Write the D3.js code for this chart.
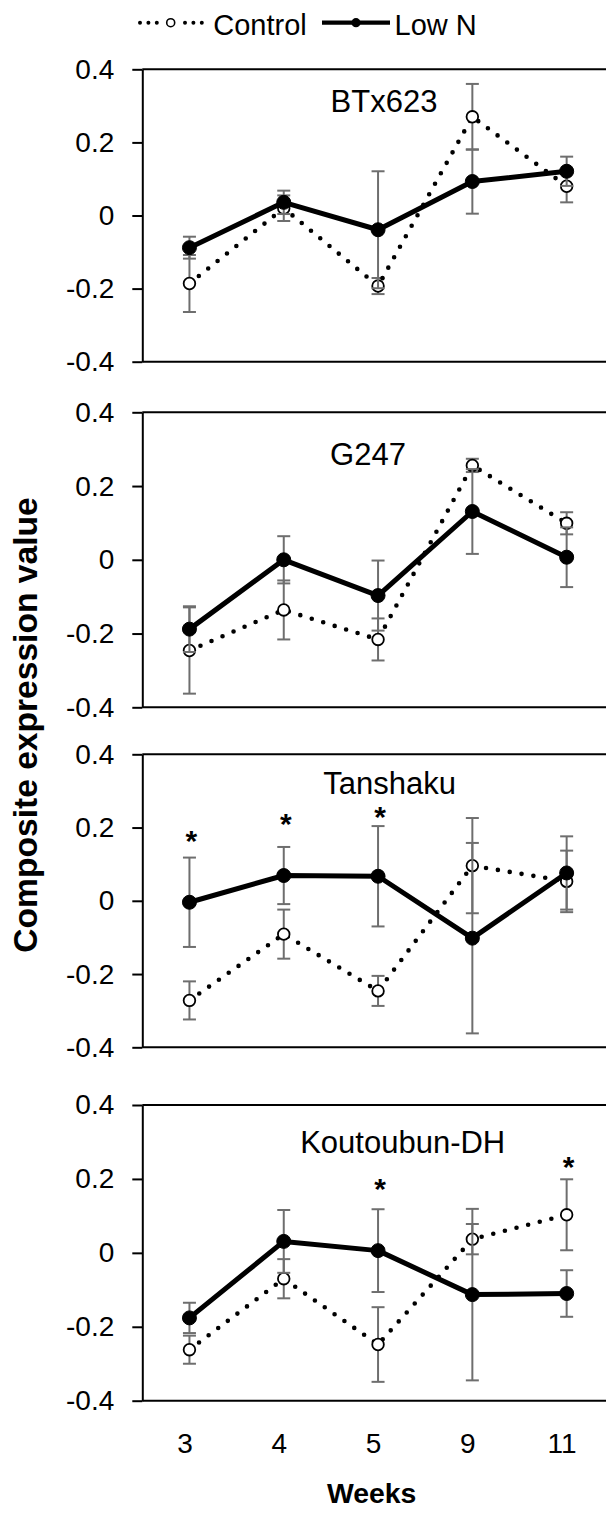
<!DOCTYPE html>
<html>
<head>
<meta charset="utf-8">
<script src="https://cdn.jsdelivr.net/npm/d3@7"></script>
<style>
  html, body { margin: 0; padding: 0; background: #fff; }
  svg { display: block; }
  text { font-family: "Liberation Sans", Arial, Helvetica, sans-serif; fill: #000; }
</style>
</head>
<body>
<svg id="chart" width="606" height="1515"></svg>
<script>
// ---- data ----
const weeks = ["3", "4", "5", "9", "11"];
const cultivars = ["BTx623", "G247", "Tanshaku", "Koutoubun-DH"];
const yTicks = [-0.4, -0.2, 0, 0.2, 0.4];

// composite expression value (mean) and error per week, Control vs Low N
const controlMean = [
  [-0.186, 0.020, -0.193, 0.270, 0.080],
  [-0.246, -0.136, -0.216, 0.256, 0.099],
  [-0.272, -0.091, -0.246, 0.096, 0.053],
  [-0.262, -0.070, -0.248, 0.037, 0.103]
];
const controlErr = [
  [0.078, 0.035, 0.022, 0.090, 0.044],
  [0.117, 0.080, 0.057, 0.018, 0.030],
  [0.052, 0.067, 0.041, 0.130, 0.084],
  [0.038, 0.053, 0.101, 0.041, 0.096]
];
const lowNMean = [
  [-0.088, 0.036, -0.039, 0.093, 0.121],
  [-0.188, 0.000, -0.097, 0.131, 0.007],
  [-0.004, 0.069, 0.067, -0.102, 0.076],
  [-0.176, 0.031, 0.006, -0.113, -0.110]
];
const lowNErr = [
  [0.030, 0.032, 0.160, 0.088, 0.040],
  [0.062, 0.064, 0.095, 0.115, 0.081],
  [0.122, 0.078, 0.137, 0.260, 0.100],
  [0.041, 0.085, 0.112, 0.232, 0.063]
];
// significance marks: [panel index, week, vertical position in data units]
const significance = [
  [2, "3", 0.183], [2, "4", 0.230], [2, "5", 0.248],
  [3, "5", 0.191], [3, "11", 0.250]
];

// ---- layout ----
const svg = d3.select("#chart");
const axisX = 142.3;
const plotRight = 613.8;
const panelTop = [69.3, 412.3, 754.3, 1105];
const panelBottom = [361.7, 707.3, 1047.3, 1400.7];
const titlePos = [[384, 42.4], [368, 52.7], [389.7, 39.7], [402.7, 48.3]];
const errColor = "#6e6e6e";

const x = d3.scalePoint().domain(weeks).range([axisX, plotRight]).padding(0.5);

cultivars.forEach((name, p) => {
  const y = d3.scaleLinear().domain([-0.4, 0.4]).range([panelBottom[p], panelTop[p]]);
  const g = svg.append("g");

  // frame lines at top and bottom of the value range
  [0.4, -0.4].forEach(v => {
    g.append("line")
      .attr("x1", axisX).attr("x2", plotRight)
      .attr("y1", y(v)).attr("y2", y(v))
      .attr("stroke", "#000").attr("stroke-width", 2);
  });

  // value axis
  const ax = g.append("g")
    .attr("transform", `translate(${axisX},0)`)
    .call(d3.axisLeft(y).tickValues(yTicks).tickSize(10).tickSizeOuter(0).tickPadding(18)
      .tickFormat(d => d === 0 ? "0" : String(+d.toFixed(1))));
  ax.select(".domain").attr("stroke", "#000").attr("stroke-width", 2);
  ax.selectAll(".tick line").attr("stroke", "#000").attr("stroke-width", 2);
  ax.selectAll(".tick text").attr("font-size", 28).attr("font-family", "Liberation Sans, Arial, sans-serif").attr("fill", "#000");

  // panel title
  g.append("text")
    .attr("x", titlePos[p][0]).attr("y", panelTop[p] + titlePos[p][1])
    .attr("text-anchor", "middle").attr("font-size", 31)
    .text(name);

  const series = [
    { mean: controlMean[p], err: controlErr[p], control: true },
    { mean: lowNMean[p], err: lowNErr[p], control: false }
  ];

  series.forEach(s => {
    const pts = weeks.map((w, i) => ({ w, v: s.mean[i], e: s.err[i] }));
    const sg = g.append("g");

    // error bars
    const eb = sg.selectAll("g.err").data(pts).join("g").attr("class", "err")
      .attr("stroke", errColor).attr("stroke-width", 2);
    eb.append("line")
      .attr("x1", d => x(d.w)).attr("x2", d => x(d.w))
      .attr("y1", d => y(d.v - d.e)).attr("y2", d => y(d.v + d.e));
    eb.append("line")
      .attr("x1", d => x(d.w) - 6.5).attr("x2", d => x(d.w) + 6.5)
      .attr("y1", d => y(d.v + d.e)).attr("y2", d => y(d.v + d.e));
    eb.append("line")
      .attr("x1", d => x(d.w) - 6.5).attr("x2", d => x(d.w) + 6.5)
      .attr("y1", d => y(d.v - d.e)).attr("y2", d => y(d.v - d.e));

    // line
    const line = d3.line().x(d => x(d.w)).y(d => y(d.v));
    const path = sg.append("path").datum(pts).attr("d", line).attr("fill", "none")
      .attr("stroke", "#000");
    if (s.control) {
      path.attr("stroke-width", 4.6).attr("stroke-linecap", "round").attr("stroke-dasharray", "0 12");
    } else {
      path.attr("stroke-width", 5).attr("stroke-linejoin", "round");
    }

    // markers
    sg.selectAll("circle").data(pts).join("circle")
      .attr("cx", d => x(d.w)).attr("cy", d => y(d.v))
      .attr("r", s.control ? 5.8 : 7)
      .attr("fill", s.control ? "#fff" : "#000")
      .attr("stroke", "#000").attr("stroke-width", s.control ? 1.8 : 1);
  });

  // significance asterisks
  significance.filter(d => d[0] === p).forEach(d => {
    g.append("text")
      .attr("x", x(d[1]) + 2).attr("y", y(d[2]) + 17)
      .attr("text-anchor", "middle").attr("font-size", 30).attr("font-weight", "bold")
      .text("*");
  });
});

// week axis labels under the last panel
const lastBottom = panelBottom[panelBottom.length - 1];
const xa = svg.append("g")
  .attr("transform", `translate(-5,${lastBottom})`)
  .call(d3.axisBottom(x).tickSize(0).tickPadding(32));
xa.select(".domain").remove();
xa.selectAll(".tick text").attr("font-size", 28).attr("font-family", "Liberation Sans, Arial, sans-serif").attr("fill", "#000");

// axis titles
svg.append("text")
  .attr("x", 371.7).attr("y", 1503)
  .attr("text-anchor", "middle").attr("font-size", 28.4).attr("font-weight", "bold")
  .text("Weeks");

svg.append("text")
  .attr("transform", "translate(36.5,725) rotate(-90)")
  .attr("text-anchor", "middle").attr("font-size", 33.6).attr("font-weight", "bold")
  .text("Composite expression value");

// legend
const legend = svg.append("g");
[[140, 157], [185, 202]].forEach(([a, b]) => {
  legend.append("line")
    .attr("x1", a).attr("x2", b + 0.1).attr("y1", 22.7).attr("y2", 22.7)
    .attr("stroke", "#000").attr("stroke-width", 4)
    .attr("stroke-linecap", "round").attr("stroke-dasharray", "0 8.4");
});
legend.append("circle")
  .attr("cx", 170.7).attr("cy", 22.7).attr("r", 4)
  .attr("fill", "#fff").attr("stroke", "#000").attr("stroke-width", 1.6);
legend.append("text").attr("x", 213.3).attr("y", 35).attr("font-size", 29).text("Control");

legend.append("line")
  .attr("x1", 322).attr("x2", 390).attr("y1", 22.7).attr("y2", 22.7)
  .attr("stroke", "#000").attr("stroke-width", 4.2);
legend.append("circle")
  .attr("cx", 356).attr("cy", 22.7).attr("r", 4.6).attr("fill", "#000");
legend.append("text").attr("x", 394.6).attr("y", 35).attr("font-size", 29).text("Low N");
</script>
</body>
</html>
